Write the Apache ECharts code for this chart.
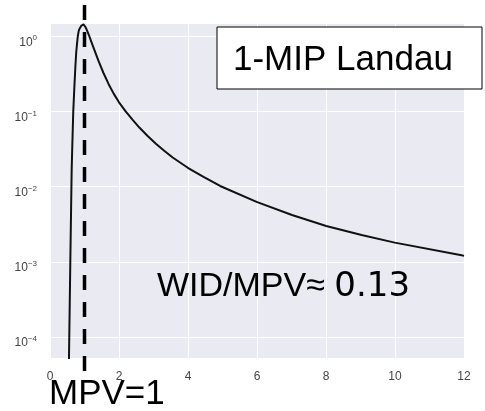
<!DOCTYPE html>
<html>
<head>
<meta charset="utf-8">
<script src="https://cdn.jsdelivr.net/npm/echarts@6/dist/echarts.min.js"></script>
<style>
  html, body { margin: 0; padding: 0; background: #fff; }
  #chart { width: 485px; height: 411px; }
</style>
</head>
<body>
<div id="chart"></div>
<script>
// curve (x, density)
const curveX = [0.545, 0.550, 0.588, 0.628, 0.643, 0.674, 0.709, 0.738, 0.761, 0.781, 0.805, 0.830, 0.853, 0.876, 0.911, 0.945, 0.970, 0.997,
  1.025, 1.055, 1.090, 1.127, 1.170, 1.250, 1.400, 1.550, 1.700, 1.850, 2.000, 2.193, 2.390, 2.597, 2.830, 3.078,
  3.310, 3.556, 3.994, 4.450, 4.931, 5.988, 7.014, 8.006, 9.032, 9.994, 11.93, 12];
const curveY = [3.6e-5, 5.26e-5, 9.35e-4, 0.0166, 0.0307, 0.099, 0.2245, 0.414, 0.616, 0.771, 0.99, 1.162, 1.25, 1.305, 1.384, 1.431, 1.432, 1.396,
  1.33, 1.246, 1.14, 1.037, 0.916, 0.728, 0.476, 0.324, 0.230, 0.171, 0.132, 0.100, 0.0776, 0.0605, 0.0471, 0.0368,
  0.0299, 0.0244, 0.0178, 0.01343, 0.01019, 0.00627, 0.00420, 0.00300, 0.00227, 0.00180, 0.00122, 0.00120];

// MPV marker, runs past the plot on both ends
const mpvX = [1, 1];
const mpvY = [2.6, 3.4e-5];

const xTicks = [0, 2, 4, 6, 8, 10, 12];

const chart = echarts.init(document.getElementById('chart'));

// 10^n labels, only at whole decades
const supText = (v) => {
  const e = Math.log10(v);
  const r = Math.round(e);
  if (Math.abs(e - r) > 1e-6) return '';
  return '{b|10}{s|' + (r < 0 ? '\u2212' + (-r) : r) + '}';
};

const option = {
  animation: false,
  grid: { left: 50, right: 21, top: 23.5, bottom: 53, show: true, backgroundColor: '#eaeaf2', borderWidth: 0 },
  xAxis: {
    type: 'value',
    min: xTicks[0],
    max: xTicks[xTicks.length - 1],
    interval: 2,
    axisLine: { show: false },
    axisTick: { show: false },
    splitLine: { show: true, lineStyle: { color: '#fff', width: 1 } },
    axisLabel: { color: '#444', fontSize: 12, margin: 13, fontFamily: 'Liberation Sans' }
  },
  yAxis: {
    type: 'log',
    logBase: 10,
    min: 5.26e-5,
    max: 1.475,
    axisLine: { show: false },
    axisTick: { show: false },
    splitLine: { show: true, lineStyle: { color: '#fff', width: 1 } },
    axisLabel: {
      showMinLabel: false,
      showMaxLabel: false,
      margin: 13,
      formatter: supText,
      rich: {
        b: { color: '#444', fontSize: 12, fontFamily: 'Liberation Sans', lineHeight: 14, padding: [12, 0, 0, 0] },
        s: { color: '#444', fontSize: 8, fontFamily: 'Liberation Sans', lineHeight: 10, padding: [5, 0, 0, 0], verticalAlign: 'top' }
      }
    }
  },
  series: [
    {
      type: 'line',
      data: curveX.map((x, i) => [x, curveY[i]]),
      showSymbol: false,
      lineStyle: { color: '#111', width: 2, join: 'round' },
      z: 2
    },
    {
      type: 'line',
      data: mpvX.map((x, i) => [x, mpvY[i]]),
      showSymbol: false,
      clip: false,
      lineStyle: { color: '#000', width: 3.5, type: [15, 12] },
      z: 3
    }
  ],
  graphic: [
    {
      type: 'rect',
      shape: { x: 217, y: 27, width: 265, height: 62 },
      style: { fill: '#fff', stroke: '#000', lineWidth: 1 },
      z: 10
    },
    {
      type: 'text',
      x: 233, y: 60.5,
      style: { text: '1-MIP Landau', fill: '#000', font: '35px "Liberation Sans"', verticalAlign: 'middle' },
      z: 11
    },
    {
      type: 'text',
      x: 157, y: 287,
      style: {
        text: '{a|WID/MPV\u2248 }{c|0.13}',
        verticalAlign: 'middle',
        rich: {
          a: { fill: '#000', fontSize: 34, fontFamily: 'Liberation Sans' },
          c: { fill: '#000', fontSize: 34, fontFamily: 'DejaVu Sans' }
        }
      },
      z: 11
    },
    {
      type: 'text',
      x: 49, y: 394.5,
      style: { text: 'MPV=1', fill: '#000', font: '35px "Liberation Sans"', verticalAlign: 'middle' },
      z: 11
    }
  ]
};

chart.setOption(option);
window.addEventListener('resize', () => chart.resize());
</script>
</body>
</html>
